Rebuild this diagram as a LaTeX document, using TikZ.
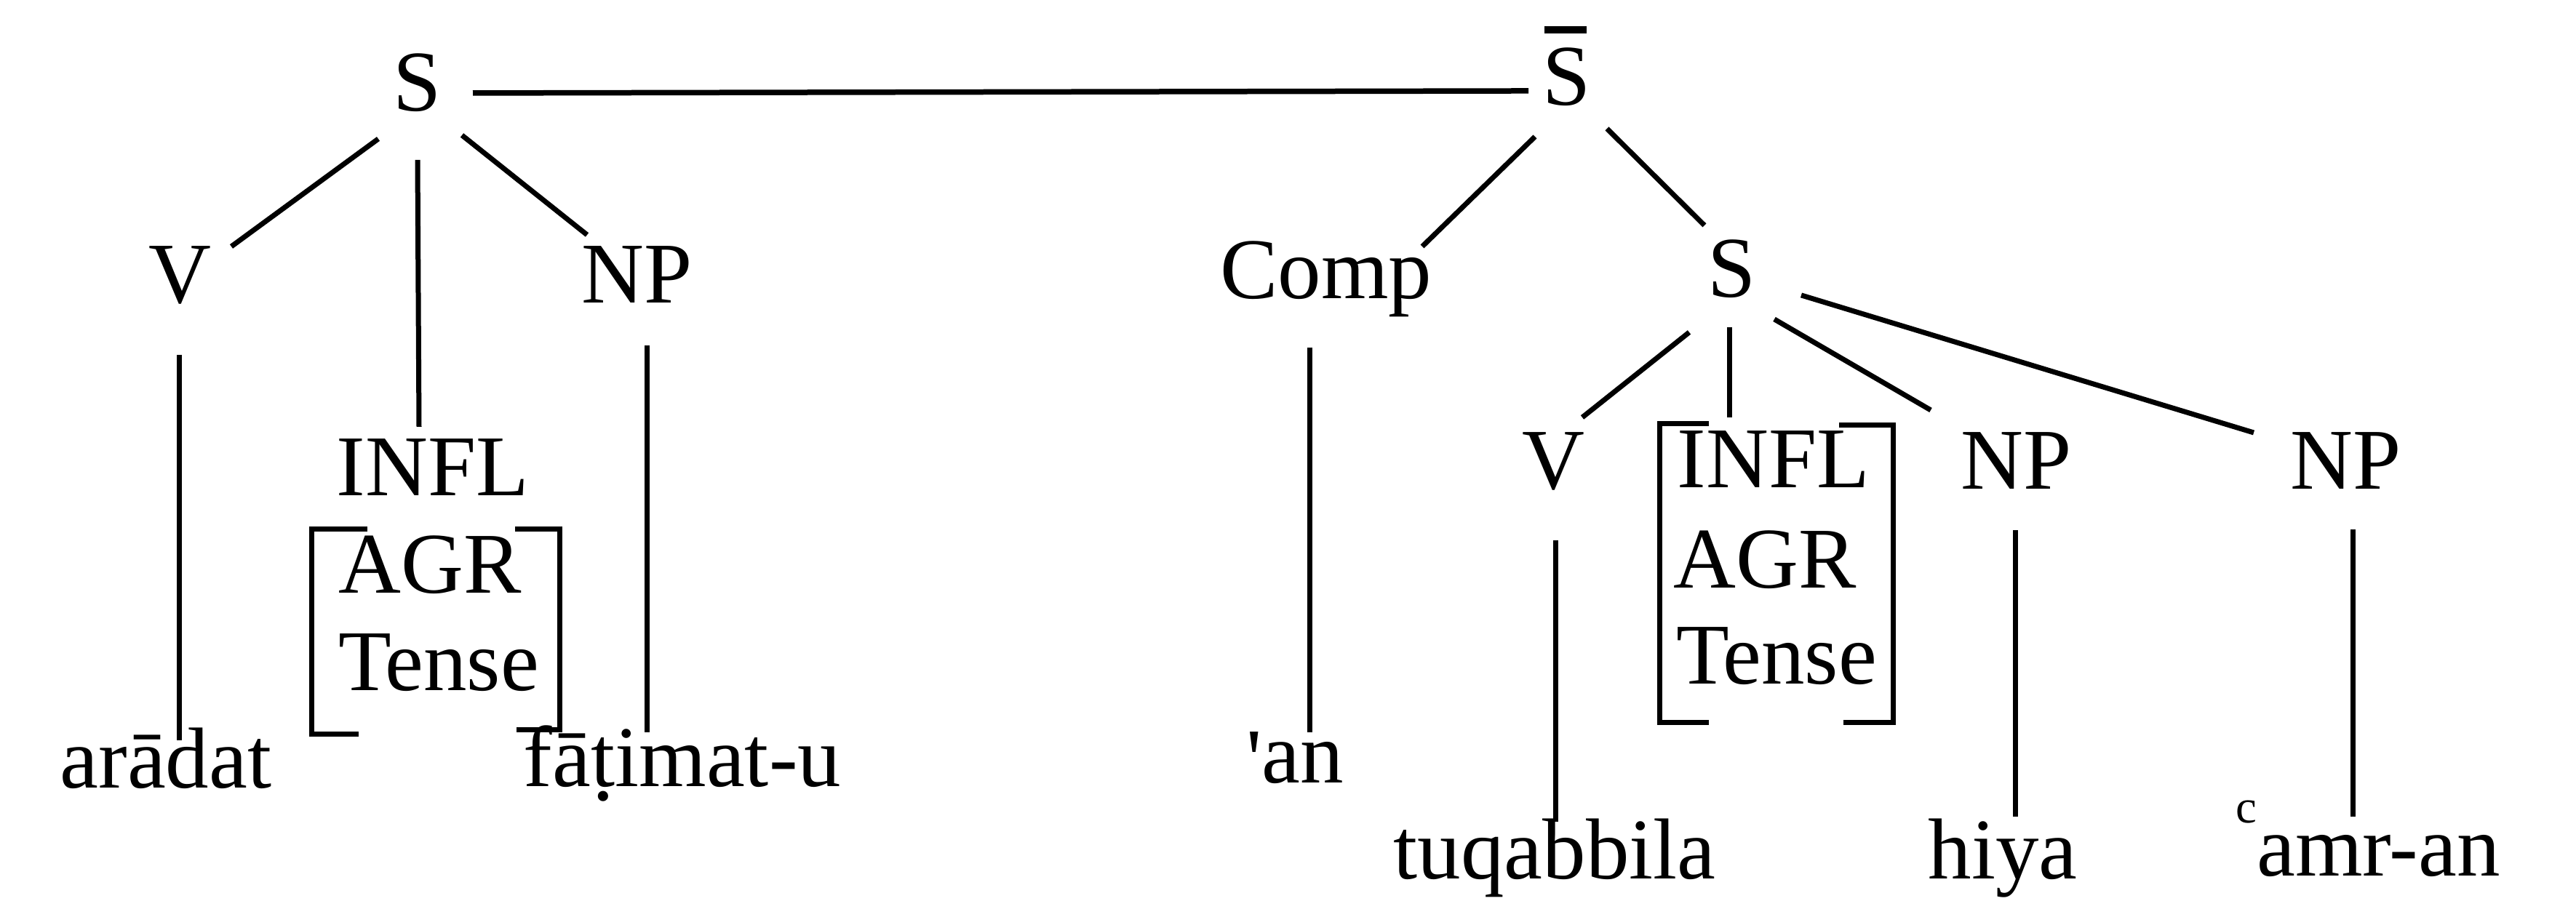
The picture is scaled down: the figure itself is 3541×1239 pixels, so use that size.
\documentclass[tikz,border=0pt]{standalone}
\usepackage{fontspec}
\setmainfont{Liberation Serif}
\newcommand{\tdot}{{\ooalign{t\cr\hidewidth\raisebox{-1.9pt}{.}\hidewidth\cr}}}
\begin{document}
\begin{tikzpicture}[x=0.1pt,y=-0.1pt,
  lbl/.style={anchor=base,inner sep=0pt,font=\fontsize{11.9}{14}\selectfont},
  edge/.style={line width=0.7pt},
  topline/.style={line width=0.75pt},
  brk/.style={line width=0.7pt}]
\useasboundingbox (0,0) rectangle (3541,1239);
% left tree
\node[lbl] (S1) at (574,153) {S};
\node[lbl] (V1) at (247,417) {V};
\node[lbl] (NP1) at (876,417) {NP};
\node[lbl] (INFL1) at (595,682) {INFL};
\node[lbl] (AGR1) at (591,816) {AGR};
\node[lbl] (Tense1) at (603,950) {Tense};
\node[lbl] (aradat) at (228,1084) {arādat};
\node[lbl] (fatimat) at (938,1082) {fā\tdot imat-u};
% right tree
\node[lbl] (Sbar) at (2154,145) {\makebox[0pt][l]{\hspace*{0.2pt}\raisebox{9.9pt}{\rule{5.8pt}{1pt}}}S};
\node[lbl] (Comp) at (1823,411) {Comp};
\node[lbl] (S2) at (2381,409) {S};
\node[lbl] (an) at (1780,1077) {\raisebox{-0.8pt}{\textquotesingle}an};
\node[lbl] (V2) at (2135,673) {V};
\node[lbl] (INFL2) at (2438,671) {INFL};
\node[lbl] (AGR2) at (2426,809) {AGR};
\node[lbl] (Tense2) at (2442,941) {Tense};
\node[lbl] (NP2) at (2772,673) {NP};
\node[lbl] (NP3) at (3225,673) {NP};
\node[lbl] (tuq) at (2137,1209) {tuqabbila};
\node[lbl] (hiya) at (2753,1209) {hiya};
\node[lbl] (amran) at (3255,1205) {\raisebox{7.3pt}{\fontsize{6.5}{6.5}\selectfont c}amr-an};
% connectors
\draw[topline] ([shift={(76,-25)}]S1.base) -- ([shift={(-53,-20)}]Sbar.base);
\draw[edge] ([shift={(-54,38)}]S1.base) -- ([shift={(71,-78)}]V1.base);
\draw[edge] ([shift={(0,67)}]S1.base) -- ([shift={(-19,-95)}]INFL1.base);
\draw[edge] ([shift={(61,33)}]S1.base) -- ([shift={(-69,-94)}]NP1.base);
\draw[edge] ([shift={(-1,71)}]V1.base) -- ([shift={(18,-66)}]aradat.base);
\draw[edge] ([shift={(13,58)}]NP1.base) -- ([shift={(-49,-75)}]fatimat.base);
\draw[edge] ([shift={(-44,43)}]Sbar.base) -- ([shift={(132,-72)}]Comp.base);
\draw[edge] ([shift={(55,32)}]Sbar.base) -- ([shift={(-38,-99)}]S2.base);
\draw[edge] ([shift={(-23,67)}]Comp.base) -- ([shift={(20,-70)}]an.base);
\draw[edge] ([shift={(-59,48)}]S2.base) -- ([shift={(40,-99)}]V2.base);
\draw[edge] ([shift={(-4,41)}]S2.base) -- ([shift={(-61,-97)}]INFL2.base);
\draw[edge] ([shift={(58,30)}]S2.base) -- ([shift={(-118,-109)}]NP2.base);
\draw[edge] ([shift={(95,-3)}]S2.base) -- ([shift={(-127,-78)}]NP3.base);
\draw[edge] ([shift={(3,70)}]V2.base) -- ([shift={(1,-79)}]tuq.base);
\draw[edge] ([shift={(-2,56)}]NP2.base) -- ([shift={(17,-86)}]hiya.base);
\draw[edge] ([shift={(9,55)}]NP3.base) -- ([shift={(-21,-82)}]amran.base);
% feature brackets
\draw[brk] (505,728) -- (428,728) -- (428,1010) -- (493,1010);
\draw[brk] (708,728) -- (769,728) -- (769,1004) -- (710,1004);
\draw[brk] (2349,583) -- (2281,583) -- (2281,994) -- (2349,994);
\draw[brk] (2528,585) -- (2602,585) -- (2602,994) -- (2534,994);
\end{tikzpicture}
\end{document}
